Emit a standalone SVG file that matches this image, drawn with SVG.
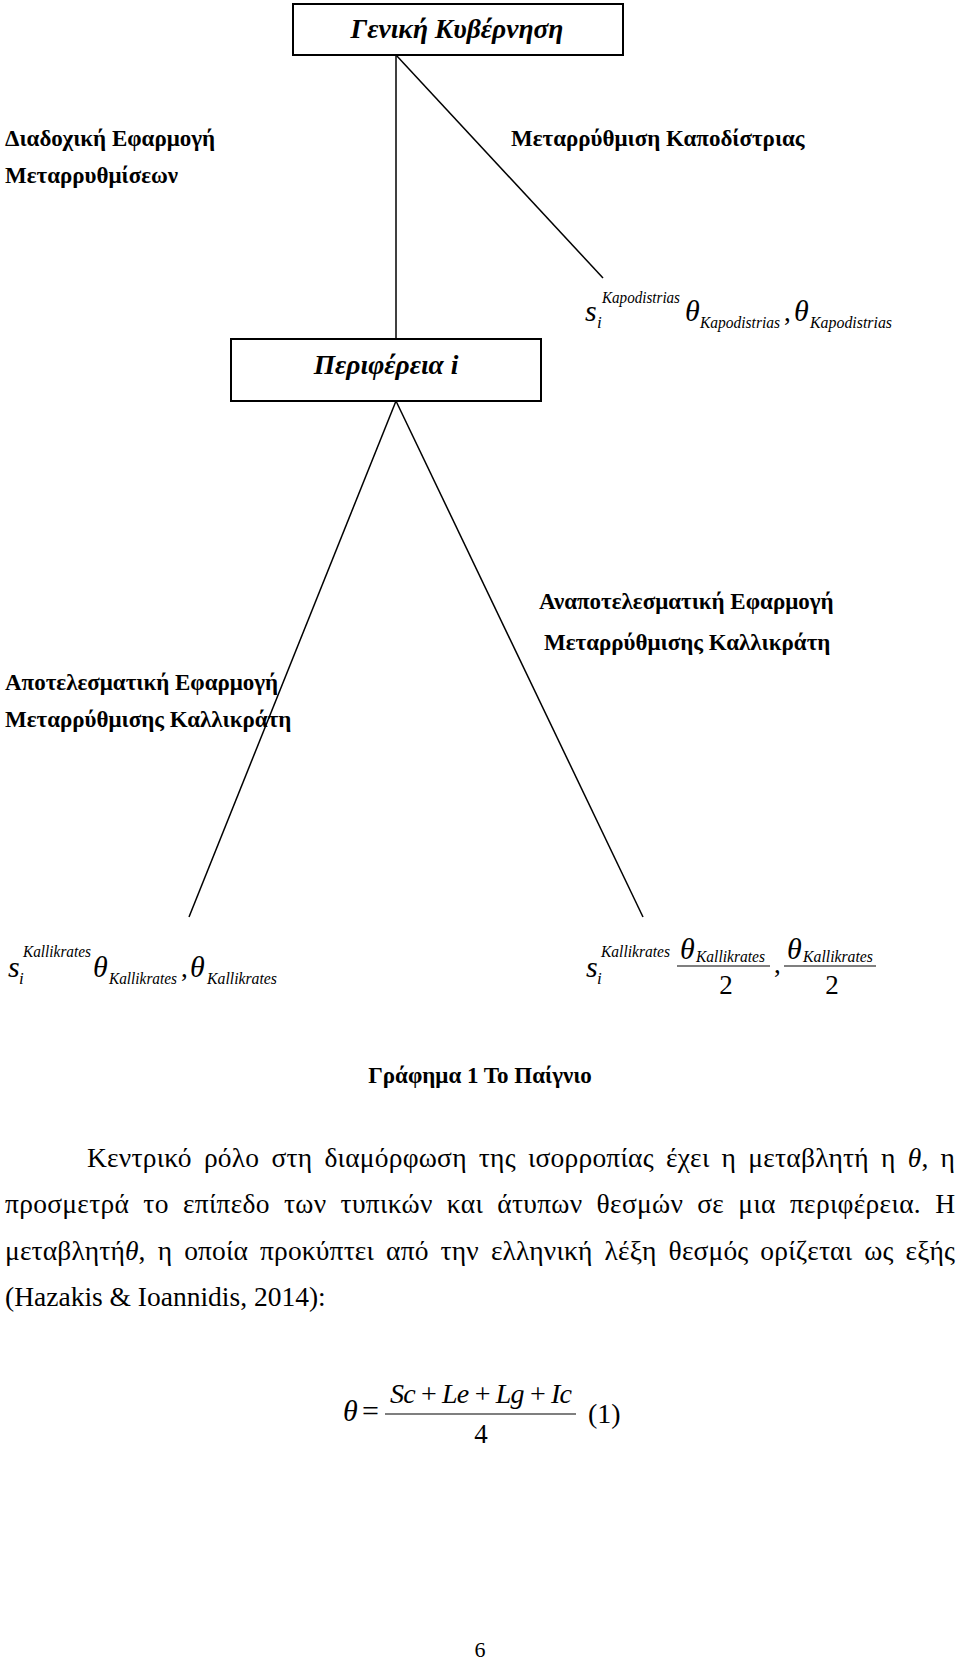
<svg xmlns="http://www.w3.org/2000/svg" width="960" height="1660" viewBox="0 0 960 1660">
<style>
.bg{fill:#ffffff}
.box{fill:#ffffff;stroke:#000;stroke-width:2}
.ln{stroke:#000;stroke-width:1.5;fill:none}
.bar{stroke:#000;stroke-width:1.2}
.nt{font-family:"Liberation Serif","Times New Roman",serif;font-style:italic;font-weight:bold;font-size:27.5px;fill:#000}
.lb{font-family:"Liberation Serif","Times New Roman",serif;font-weight:bold;font-size:23px;fill:#000}
.m{font-family:"Liberation Serif","Times New Roman",serif;font-style:italic;font-size:30px;fill:#000}
.mt{font-family:"Liberation Serif","Times New Roman",serif;font-style:italic;font-size:30px;fill:#000}
.ms{font-family:"Liberation Serif","Times New Roman",serif;font-style:italic;font-size:17px;fill:#000}
.mu{font-family:"Liberation Serif","Times New Roman",serif;font-size:27px;fill:#000}
.p{font-family:"Liberation Serif","Times New Roman",serif;font-size:27.5px;fill:#000}
.it{font-style:italic}
.cap{font-family:"Liberation Serif","Times New Roman",serif;font-weight:bold;font-size:23px;fill:#000}
</style>
<rect class="bg" x="0" y="0" width="960" height="1660"/>
<g id="connectors">
<line class="ln" x1="396" y1="55" x2="396" y2="339"/>
<line class="ln" x1="396" y1="55" x2="603" y2="278"/>
<line class="ln" x1="396" y1="401" x2="189" y2="917"/>
<line class="ln" x1="396" y1="401" x2="643" y2="917"/>
</g>
<g id="node-geniki">
<rect class="box" x="293" y="4" width="330" height="51"/>
<text class="nt" x="457" y="38" text-anchor="middle">Γενική Κυβέρνηση</text>
</g>
<g id="node-perifereia">
<rect class="box" x="231" y="339" width="310" height="62"/>
<text class="nt" x="386" y="374" text-anchor="middle">Περιφέρεια  i</text>
</g>
<g id="label-diadoxiki">
<text class="lb" x="5" y="146">Διαδοχική Εφαρμογή</text>
<text class="lb" x="5" y="183">Μεταρρυθμίσεων</text>
</g>
<g id="label-kapodistrias">
<text class="lb" x="511" y="146">Μεταρρύθμιση Καποδίστριας</text>
</g>
<g id="payoff-kapodistrias">
<text class="m" x="585" y="321">s</text>
<text class="ms" x="597" y="328">i</text>
<text class="ms" x="602" y="303" textLength="78" lengthAdjust="spacingAndGlyphs">Kapodistrias</text>
<text class="mt" x="685" y="321">θ</text>
<text class="ms" x="700" y="328" textLength="80" lengthAdjust="spacingAndGlyphs">Kapodistrias</text>
<text class="mu" x="784" y="321">,</text>
<text class="mt" x="794" y="321">θ</text>
<text class="ms" x="810" y="328" textLength="82" lengthAdjust="spacingAndGlyphs">Kapodistrias</text>
</g>
<g id="label-anapotelesmatiki">
<text class="lb" x="539" y="609">Αναποτελεσματική Εφαρμογή</text>
<text class="lb" x="544" y="650">Μεταρρύθμισης Καλλικράτη</text>
</g>
<g id="label-apotelesmatiki">
<text class="lb" x="5" y="690">Αποτελεσματική Εφαρμογή</text>
<text class="lb" x="5" y="727">Μεταρρύθμισης Καλλικράτη</text>
</g>
<g id="payoff-kallikrates-left">
<text class="m" x="8" y="977">s</text>
<text class="ms" x="19" y="984">i</text>
<text class="ms" x="23" y="957" textLength="68" lengthAdjust="spacingAndGlyphs">Kallikrates</text>
<text class="mt" x="93" y="977">θ</text>
<text class="ms" x="109" y="984" textLength="68" lengthAdjust="spacingAndGlyphs">Kallikrates</text>
<text class="mu" x="181" y="977">,</text>
<text class="mt" x="190" y="977">θ</text>
<text class="ms" x="207" y="984" textLength="70" lengthAdjust="spacingAndGlyphs">Kallikrates</text>
</g>
<g id="payoff-kallikrates-right">
<text class="m" x="586" y="977">s</text>
<text class="ms" x="597" y="984">i</text>
<text class="ms" x="601" y="957" textLength="69" lengthAdjust="spacingAndGlyphs">Kallikrates</text>
<text class="mt" x="680" y="959">θ</text>
<text class="ms" x="696" y="962" textLength="69" lengthAdjust="spacingAndGlyphs">Kallikrates</text>
<line class="bar" x1="677" y1="966" x2="770" y2="966"/>
<text class="mu" x="726" y="994" text-anchor="middle">2</text>
<text class="mu" x="774" y="973">,</text>
<text class="mt" x="787" y="959">θ</text>
<text class="ms" x="803" y="962" textLength="70" lengthAdjust="spacingAndGlyphs">Kallikrates</text>
<line class="bar" x1="784" y1="966" x2="876" y2="966"/>
<text class="mu" x="832" y="994" text-anchor="middle">2</text>
</g>
<g id="caption">
<text class="cap" x="480" y="1083" text-anchor="middle">Γράφημα 1 Το Παίγνιο</text>
</g>
<g id="paragraph">
<text class="p" x="87" y="1167" word-spacing="5" textLength="868" lengthAdjust="spacing">Κεντρικό ρόλο στη διαμόρφωση της ισορροπίας έχει η μεταβλητή η  <tspan class="it">θ</tspan>, η</text>
<text class="p" x="5" y="1213" word-spacing="7" textLength="950" lengthAdjust="spacing">προσμετρά το επίπεδο των τυπικών και άτυπων θεσμών σε μια περιφέρεια. Η</text>
<text class="p" x="5" y="1260" word-spacing="5" textLength="950" lengthAdjust="spacing">μεταβλητή<tspan class="it">θ</tspan>, η οποία προκύπτει από την ελληνική λέξη θεσμός ορίζεται ως εξής</text>
<text class="p" x="5" y="1306">(Hazakis &amp; Ioannidis, 2014):</text>
</g>
<g id="equation">
<text class="mt" x="343" y="1421">θ</text>
<text class="mu" x="362" y="1421" style="font-size:30px">=</text>
<text class="mu" x="390" y="1403" textLength="182" lengthAdjust="spacing" style="font-size:28px"><tspan class="it">Sc</tspan> + <tspan class="it">Le</tspan> + <tspan class="it">Lg</tspan> + <tspan class="it">Ic</tspan></text>
<line class="bar" x1="385" y1="1414" x2="576" y2="1414"/>
<text class="mu" x="481" y="1443" text-anchor="middle">4</text>
<text class="mu" x="588" y="1423" style="font-size:28px">(1)</text>
</g>
<g id="page-number">
<text class="mu" x="480" y="1657" text-anchor="middle" style="font-size:22px">6</text>
</g>
</svg>
